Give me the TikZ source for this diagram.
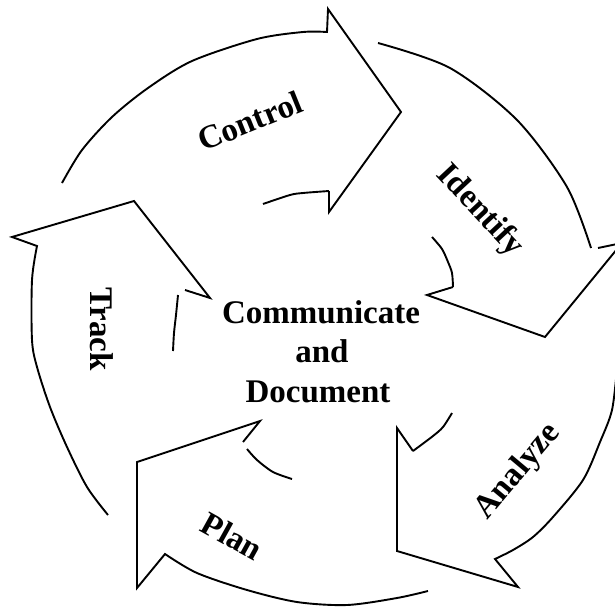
\documentclass[tikz,border=0pt]{standalone}
\usepackage{fontspec}
\setmainfont{Liberation Serif}
\begin{document}
\begin{tikzpicture}[x=1pt,y=-1pt,
  outline/.style={line width=1.9pt, line join=miter},
  lbl/.style={font=\fontsize{33}{40}\selectfont\bfseries, inner sep=0pt}]
\useasboundingbox (0,0) rectangle (615,607);
\clip (0,0) rectangle (615,607);
\fill[white] (0,0) rectangle (615,607);

% Control arrow
\draw[outline] plot[smooth] coordinates {(62,183) (82,150) (112,117) (148,88) (192,61) (257,39) (303,32) (327,32)}
  -- (328,9) -- (401,112) -- (329,212) -- (329,191);
\draw[outline] plot[smooth] coordinates {(329,191) (303,193) (290,195) (263,204)};

% Identify arrow
\draw[outline] plot[smooth] coordinates {(378,43) (450,68) (517,120) (567,187) (591,248)};
\draw[outline] (598,248) -- (622,243) -- (545,337) -- (427,295) -- (453,287);
\draw[outline] plot[smooth] coordinates {(453,287) (452,273) (448,262) (442,249) (432,237)};

% Analyze arrow
\draw[outline] plot[smooth] coordinates {(617,368) (612,410) (600,442) (583,480) (553,517) (533,537) (513,550) (495,559)}
  -- (518,587) -- (397,551) -- (397,428) -- (413,451);
\draw[outline] plot[smooth] coordinates {(413,451) (433,436) (443,427) (452,413)};

% Plan arrow
\draw[outline] plot[smooth] coordinates {(428,591) (397,598) (347,605) (297,602) (247,590) (197,573) (165,554)}
  -- (137,588) -- (137,462) -- (260,421) -- (243,442);
\draw[outline] plot[smooth] coordinates {(247,449) (257,460) (273,472) (292,479)};

% Track arrow
\draw[outline] plot[smooth] coordinates {(108,515) (87,487) (67,447) (50,407) (37,367) (32,340) (32,280) (37,246)}
  -- (12,237) -- (134,201) -- (210,298) -- (185,290);
\draw[outline] plot[smooth] coordinates {(178,295) (176,315) (174,333) (173,351)};

% Labels
\node[lbl, rotate=22] (control) at (250,121) {Control};
\node[lbl, rotate=-47] (identify) at (480,211) {Identify};
\node[lbl, rotate=50] (analyze) at (518,472) {Analyze};
\node[lbl, rotate=-29] (plan) at (232,536) {Plan};
\node[lbl, rotate=-90] (track) at (102,329) {Track};

\node[lbl, anchor=base] (comm) at (321,323) {Communicate};
\node[lbl, anchor=base] (and) at (322,362) {and};
\node[lbl, anchor=base] (doc) at (318,402) {Document};
\end{tikzpicture}
\end{document}
